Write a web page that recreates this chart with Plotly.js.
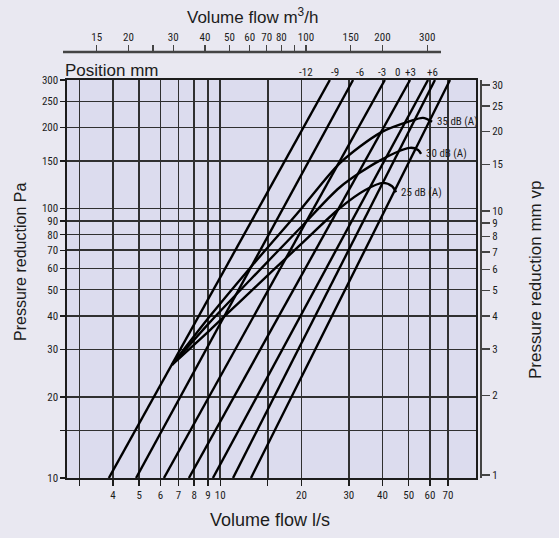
<!DOCTYPE html>
<html><head><meta charset="utf-8">
<script src="https://cdn.plot.ly/plotly-3.0.1.min.js"></script>
<style>html,body{margin:0;padding:0;background:#e9e8f1;}#chart{width:559px;height:538px;}</style>
</head><body><div id="chart"></div>
<script>
// ---- data ----
const positionLabels = ['-12', '-9', '-6', '-3', '0', '+3', '+6'];
const flowAt10Pa  = [3.86, 4.87, 6.18, 7.65, 9.39, 11.15, 13.0];   // l/s where each position line meets 10 Pa
const flowAt300Pa = [25.5, 31.1, 40.8, 50.6, 59.0, 62.6, 71.2];    // l/s where each position line meets 300 Pa
const lineEndsPa  = [10, 300];

const soundLabels = ['25 dB (A)', '30 dB (A)', '35 dB (A)'];
const sound25Flow = [6.62, 9.16, 12.9, 19.8, 27.8, 34.4, 40.2, 43.4, 44.9];
const sound25Pa   = [26.3, 35.4, 49.0, 73.3, 100.5, 117, 124.5, 121, 115];
const sound30Flow = [6.62, 9.16, 12.9, 19.8, 27.8, 39.2, 50.6, 54.2, 55.6];
const sound30Pa   = [26.3, 37.9, 54.3, 84.7, 120, 151, 168, 165, 159.5];
const sound35Flow = [6.62, 9.16, 12.9, 19.8, 27.8, 39.2, 50.6, 56.5, 61.1];
const sound35Pa   = [26.3, 39.9, 60.2, 98.8, 147.5, 191, 211, 217, 210];

const flowTickVals = [3, 4, 5, 6, 7, 8, 9, 10, 15, 20, 30, 40, 50, 60, 70];
const flowTickText = ['', '4', '5', '6', '7', '8', '9', '10', '', '20', '30', '40', '50', '60', '70'];
const paTickVals = [10, 15, 20, 30, 40, 50, 60, 70, 80, 90, 100, 150, 200, 250, 300];
const paTickText = ['10', '', '20', '30', '40', '50', '60', '70', '80', '90', '100', '150', '200', '250', '300'];
const m3hTickVals = [15, 20, 25, 30, 40, 50, 60, 70, 80, 90, 100, 150, 200, 300];
const m3hTickText = ['15', '20', '', '30', '40', '50', '60', '70', '80', '', '100', '150', '200', '300'];
const mmTickVals = [1, 2, 3, 4, 5, 6, 7, 8, 9, 10, 15, 20, 25, 30];
const mmTickText = ['1', '2', '3', '4', '5', '6', '7', '8', '9', '10', '15', '20', '25', '30'];

// ---- layout constants ----
const W = 559, H = 538;
const PL = 63, PR = 481, PT = 52, PB = 478;       // paper box in px
const pw = PR - PL, ph = PB - PT;
const px = x => (x - PL) / pw;
const py = y => (PB - y) / ph;
const positionLabelFlow = [20.8, 26.6, 33.0, 39.8, 45.3, 50.6, 61.5];

const FONT = 'Liberation Sans Narrow, Arial Narrow, Roboto Condensed, Liberation Sans, Arial, sans-serif';
const TFONT = 'Liberation Sans, Arial, sans-serif';
const INK = '#1c1c1c';

const traces = [];
positionLabels.forEach((p, i) => {
  traces.push({
    x: [flowAt10Pa[i], flowAt300Pa[i]], y: lineEndsPa,
    mode: 'lines', line: {color: '#000', width: 2.4}, hoverinfo: 'skip', name: p
  });
});
const soundSets = [[sound25Flow, sound25Pa], [sound30Flow, sound30Pa], [sound35Flow, sound35Pa]];
soundSets.forEach((s, i) => {
  traces.push({
    x: s[0], y: s[1], mode: 'lines', line: {color: '#000', width: 2.4, shape: 'spline', smoothing: 0.8},
    hoverinfo: 'skip', name: soundLabels[i]
  });
});
// carriers for the secondary scales
traces.push({x: [20], y: [5000], xaxis: 'x2', yaxis: 'y', mode: 'markers', marker: {opacity: 0}, hoverinfo: 'skip'});
traces.push({x: [20], y: [5000], xaxis: 'x', yaxis: 'y2', mode: 'markers', marker: {opacity: 0}, hoverinfo: 'skip'});

const annotations = [];
positionLabels.forEach((p, i) => {
  annotations.push({text: p, xref: 'x', yref: 'paper', x: Math.log10(positionLabelFlow[i]), y: py(72),
    showarrow: false, xanchor: 'center', yanchor: 'middle', font: {family: FONT, size: 11, color: INK}});
});
soundSets.forEach((s, i) => {
  const n = s[0].length - 1;
  annotations.push({text: soundLabels[i], xref: 'x', yref: 'y', x: Math.log10(s[0][n]), y: Math.log10(s[1][n]),
    showarrow: false, xanchor: 'left', yanchor: 'middle', xshift: 3, font: {family: FONT, size: 11, color: INK}});
});
annotations.push({text: 'Position mm', xref: 'paper', yref: 'paper', x: 0, y: py(70), xanchor: 'left', yanchor: 'middle',
  showarrow: false, font: {family: TFONT, size: 17, color: INK}});
annotations.push({text: 'Volume flow l/s', xref: 'paper', yref: 'paper', x: px(270), y: py(520), xanchor: 'center', yanchor: 'middle',
  showarrow: false, font: {family: TFONT, size: 18, color: INK}});
annotations.push({text: 'Volume flow m<sup>3</sup>/h', xref: 'paper', yref: 'paper', x: px(252), y: py(16), xanchor: 'center', yanchor: 'middle',
  showarrow: false, font: {family: TFONT, size: 17, color: INK}});
annotations.push({text: 'Pressure reduction Pa', xref: 'paper', yref: 'paper', x: px(20), y: py(262), textangle: -90,
  xanchor: 'center', yanchor: 'middle', showarrow: false, font: {family: TFONT, size: 16, color: INK}});
annotations.push({text: 'Pressure reduction mm vp', xref: 'paper', yref: 'paper', x: px(535), y: py(280), textangle: -90,
  xanchor: 'center', yanchor: 'middle', showarrow: false, font: {family: TFONT, size: 17, color: INK}});

const tickFont = {family: FONT, size: 11, color: INK};
const layout = {
  width: W, height: H,
  margin: {l: PL, r: W - PR, t: PT, b: H - PB, pad: 0},
  paper_bgcolor: '#e9e8f1', plot_bgcolor: '#dcdcee',
  showlegend: false,
  xaxis: {type: 'log', domain: [px(67), px(476)], range: [Math.log10(2.7), Math.log10(88.9)],
    tickmode: 'array', tickvals: flowTickVals, ticktext: flowTickText, ticks: 'outside', ticklen: 6,
    tickcolor: INK, tickwidth: 1.5, showgrid: true, gridcolor: '#303030', gridwidth: 1.6, tickangle: 0,
    showline: true, linecolor: INK, linewidth: 1.6, mirror: true, zeroline: false, tickfont: tickFont, anchor: 'y'},
  yaxis: {type: 'log', domain: [0, py(80)], range: [1, Math.log10(300)],
    tickmode: 'array', tickvals: paTickVals, ticktext: paTickText, ticks: 'outside', ticklen: 5,
    tickcolor: INK, tickwidth: 1.5, showgrid: true, gridcolor: '#303030', gridwidth: 1.6,
    showline: true, linecolor: INK, linewidth: 1.6, mirror: true, zeroline: false, tickfont: tickFont, anchor: 'x'},
  xaxis2: {type: 'log', overlaying: 'x', anchor: 'free', position: 1, side: 'top', tickangle: 0,
    range: [2 - (306 - 67) / 254, 2 + (476 - 306) / 254],
    tickmode: 'array', tickvals: m3hTickVals, ticktext: m3hTickText, ticks: 'outside', ticklen: 7,
    tickcolor: '#444', tickwidth: 1.3, showgrid: false, showline: false, zeroline: false, tickfont: tickFont},
  yaxis2: {type: 'log', overlaying: 'y', anchor: 'free', position: 1, side: 'right',
    range: [-3 / 264, (475 - 80) / 264],
    tickmode: 'array', tickvals: mmTickVals, ticktext: mmTickText, ticks: 'outside', ticklen: 8,
    tickcolor: '#444', tickwidth: 1.3, showgrid: false, showline: true, linecolor: '#444', linewidth: 2,
    zeroline: false, tickfont: tickFont},
  shapes: [{type: 'line', xref: 'paper', yref: 'paper', x0: 0, x1: px(441), y0: 1, y1: 1,
    line: {color: '#444', width: 2.5}}],
  annotations: annotations
};
Plotly.newPlot('chart', traces, layout, {staticPlot: true, displayModeBar: false});
</script></body></html>
